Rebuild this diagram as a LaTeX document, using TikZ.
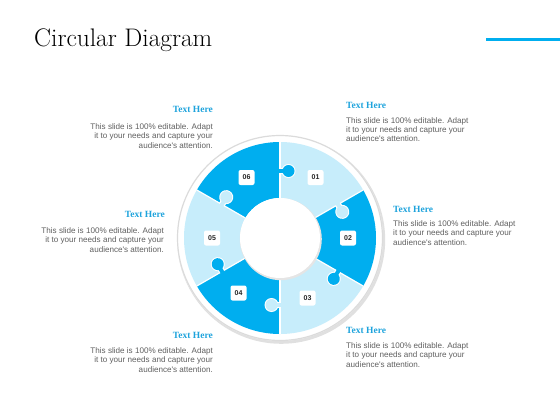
\documentclass[tikz,border=0pt]{standalone}
\usepackage{fontspec}
\setmainfont{Latin Modern Roman}
\newfontfamily\bodyfont{Liberation Sans}
\newfontfamily\headfont{Liberation Serif}
\definecolor{darkpc}{RGB}{0,174,239}
\definecolor{lightpc}{RGB}{199,237,251}
\definecolor{headblue}{RGB}{30,163,220}
\definecolor{bodygray}{RGB}{95,95,95}
\begin{document}
\begin{tikzpicture}[x=1pt,y=-1pt,
  head/.style={inner sep=0pt, text=headblue, font=\headfont\bfseries\fontsize{9.5}{11}\selectfont},
  body/.style={inner sep=0pt, text=bodygray, font=\bodyfont\fontsize{8.1}{9.5}\selectfont},
  numbox/.style={fill=white, rounded corners=2pt, minimum width=16pt, minimum height=15pt, inner sep=0pt, font=\bodyfont\bfseries\fontsize{7}{8}\selectfont, text=black!85}
]
\useasboundingbox (0,0) rectangle (560,420);
% title and accent
\node[anchor=base west, inner sep=0pt, font=\fontsize{25.4}{28}\selectfont] (title) at (34,47) {Circular Diagram};
\coordinate (accA) at (486,40);
\coordinate (accB) at (560,40);
\draw[darkpc, line width=3pt] (accA) -- (accB);
% ring
\begin{scope}[shift={(280,238)}, y=1pt]
  \fill[black!12] (1.2,-1.8) circle (104);
  \fill[white] (0,0) circle (103);
  \draw[black!14, line width=1.2pt] (0,0) circle (102.5);
  \foreach \a/\c in {30/lightpc, -30/darkpc, -90/lightpc, -150/darkpc, 150/lightpc, 90/darkpc}{
    \fill[\c] (\a:40) -- (\a:96) arc[start angle=\a, end angle=\a+60, radius=96] -- (\a+60:40) arc[start angle=\a+60, end angle=\a, radius=40] -- cycle;
  }
  \foreach \a in {90,30,-30,-90,-150,150}{
    \draw[white, line width=1.2pt] (\a:40) -- (\a:96);
  }
  \foreach \a/\c in {90/darkpc, 30/lightpc, -30/darkpc, -90/lightpc, -150/darkpc, 150/lightpc}{
    \begin{scope}[rotate=\a]
      \fill[white] (67,-8.5) circle (7);
      \fill[white] (63.8,0) rectangle (70.2,-8);
      \fill[\c] (67,-8.5) circle (6);
      \fill[\c] (65,1.2) rectangle (69,-8);
    \end{scope}
  }
  \fill[black!10] (0.8,-1.2) circle (41);
  \fill[white] (0,0) circle (40);
\end{scope}
% number boxes
\node[numbox] (n01) at (315.5,177.5) {01};
\node[numbox] (n02) at (348,238) {02};
\node[numbox] (n03) at (307.5,298) {03};
\node[numbox] (n04) at (238.5,293) {04};
\node[numbox] (n05) at (212,238) {05};
\node[numbox] (n06) at (246.5,177.5) {06};
% text blocks
\node[head, anchor=base east] (h1) at (213,113) {Text Here};
\node[body, anchor=base east, align=right] (b1) at (213,148) {This slide is 100\% editable. Adapt\\it to your needs and capture your\\audience's attention.};
\node[head, anchor=base west] (h2) at (346,108) {Text Here};
\node[body, anchor=base west, align=left] (b2) at (346,142) {This slide is 100\% editable. Adapt\\it to your needs and capture your\\audience's attention.};
\node[head, anchor=base west] (h3) at (393,212) {Text Here};
\node[body, anchor=base west, align=left] (b3) at (393,245) {This slide is 100\% editable. Adapt\\it to your needs and capture your\\audience's attention.};
\node[head, anchor=base east] (h4) at (165,217) {Text Here};
\node[body, anchor=base east, align=right] (b4) at (164,252) {This slide is 100\% editable. Adapt\\it to your needs and capture your\\audience's attention.};
\node[head, anchor=base east] (h5) at (213,338) {Text Here};
\node[body, anchor=base east, align=right] (b5) at (213,372) {This slide is 100\% editable. Adapt\\it to your needs and capture your\\audience's attention.};
\node[head, anchor=base west] (h6) at (346,333) {Text Here};
\node[body, anchor=base west, align=left] (b6) at (346,367) {This slide is 100\% editable. Adapt\\it to your needs and capture your\\audience's attention.};
\end{tikzpicture}
\end{document}
